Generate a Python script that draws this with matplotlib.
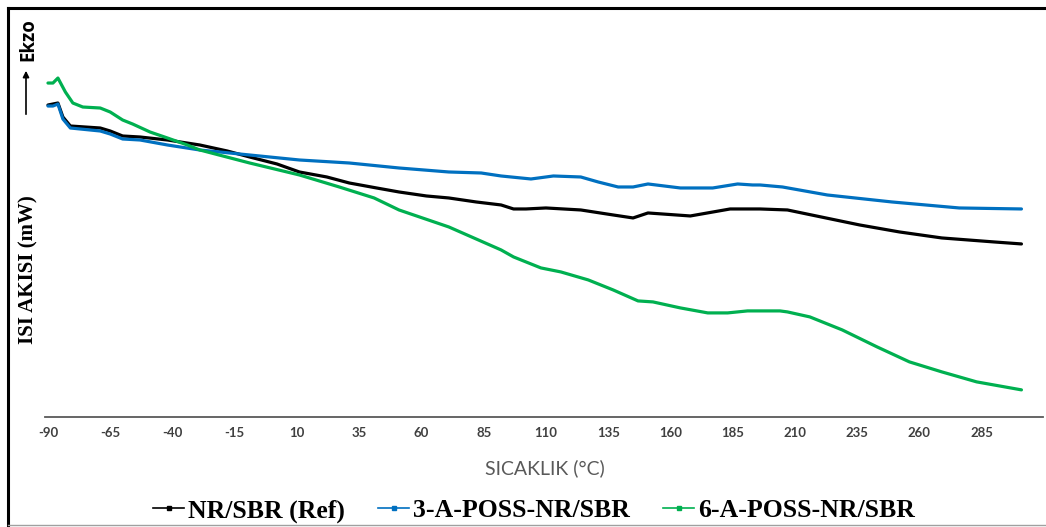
import matplotlib
matplotlib.use("Agg")
import matplotlib.pyplot as plt
from matplotlib.lines import Line2D

# DSC curves (temperature in °C, heat flow in arbitrary units)
t_ref = [-90, -88, -86, -84, -81, -69, -65, -60, -53, -42, -29, -18, -9, 2, 11, 22, 31, 42, 51, 62,
         71, 82, 92, 97, 102, 110, 124, 137, 145, 151, 168, 184, 196, 207, 236, 252, 269, 290, 301]
v_ref = [3.12, 3.13, 3.14, 3.00, 2.91, 2.89, 2.86, 2.81, 2.80, 2.77, 2.72, 2.66, 2.60, 2.53, 2.45,
         2.40, 2.34, 2.29, 2.25, 2.21, 2.19, 2.15, 2.12, 2.08, 2.08, 2.09, 2.07, 2.02, 1.99, 2.04,
         2.01, 2.08, 2.08, 2.07, 1.92, 1.85, 1.79, 1.75, 1.73]

t_3a = [-90, -88, -86, -84, -81, -69, -65, -60, -53, -42, -29, -9, 11, 31, 51, 71, 84, 92, 104, 113,
        124, 131, 139, 145, 151, 164, 177, 187, 193, 196, 205, 223, 249, 276, 301]
v_3a = [3.11, 3.11, 3.13, 2.98, 2.89, 2.86, 2.83, 2.78, 2.77, 2.72, 2.67, 2.62, 2.57, 2.54, 2.49,
        2.45, 2.44, 2.41, 2.38, 2.41, 2.40, 2.35, 2.30, 2.30, 2.33, 2.29, 2.29, 2.33, 2.32, 2.32,
        2.30, 2.22, 2.15, 2.09, 2.08]

t_6a = [-90, -88, -86, -83, -80, -76, -69, -65, -60, -56, -49, -42, -34, -29, -9, 11, 27, 41, 51, 71,
        92, 97, 108, 116, 127, 137, 147, 153, 164, 175, 183, 191, 204, 207, 216, 229, 243, 256, 269,
        283, 301]
v_6a = [3.34, 3.34, 3.39, 3.25, 3.14, 3.10, 3.09, 3.05, 2.97, 2.93, 2.85, 2.79, 2.72, 2.67, 2.54,
        2.42, 2.30, 2.19, 2.07, 1.90, 1.67, 1.60, 1.49, 1.45, 1.37, 1.27, 1.16, 1.15, 1.09, 1.04,
        1.04, 1.06, 1.06, 1.05, 1.00, 0.87, 0.70, 0.55, 0.45, 0.35, 0.27]

series_names = ["NR/SBR (Ref)", "3-A-POSS-NR/SBR", "6-A-POSS-NR/SBR"]
tick_temps = list(range(-90, 286, 25))

colors = ["#000000", "#0070C0", "#00B050"]

fig = plt.figure(figsize=(10.46, 5.27), dpi=100)
ax = fig.add_axes([0.043, 0.209, 0.954, 0.715])

for t, v, c, name in zip([t_ref, t_3a, t_6a], [v_ref, v_3a, v_6a], colors, series_names):
    ax.plot(t, v, color=c, lw=2.3, label=name, solid_capstyle="round", solid_joinstyle="round")

ax.set_xlim(-91.2, 309.6)
ax.set_ylim(0, 3.77)
ax.set_xticks(tick_temps)
ax.set_xticklabels([str(t) for t in tick_temps], fontsize=9.5, fontweight="bold",
                   color="#404040", family="Lato")
ax.tick_params(axis="x", length=0, pad=7)
ax.set_yticks([])
for s in ["top", "right", "left"]:
    ax.spines[s].set_visible(False)
ax.spines["bottom"].set_color("#595959")
ax.spines["bottom"].set_linewidth(1.3)

fig.text(545 / 1046, 1 - 468 / 527, "SICAKLIK (°C)", ha="center", va="center",
         fontsize=14, color="#595959", family="Lato")
fig.text(28 / 1046, 1 - 270 / 527, "ISI AKISI (mW)", rotation=90, ha="center", va="center",
         fontsize=15, fontweight="bold", family="Liberation Serif")
fig.text(28 / 1046, 1 - 40 / 527, "Ekzo", rotation=90, ha="center", va="center",
         fontsize=13.5, fontweight="bold", family="Open Sans")
ax.annotate("", xy=(26 / 1046, 1 - 68 / 527), xytext=(26 / 1046, 1 - 117 / 527),
            xycoords="figure fraction",
            arrowprops=dict(arrowstyle="-|>", color="black", lw=1.2, mutation_scale=9))

# frame around the figure
fig.add_artist(Line2D([8 / 1046, 1.0], [1 - 8 / 527] * 2, color="black", lw=2.2))
fig.add_artist(Line2D([8 / 1046] * 2, [0, 1 - 8 / 527], color="black", lw=2.2))
fig.add_artist(Line2D([8 / 1046, 1.0], [2 / 527] * 2, color="#a0a0a0", lw=1.0))

handles = [Line2D([], [], color=c, lw=1.2, marker="s", markersize=2.5) for c in colors]
fig.legend(handles, series_names, loc="center", bbox_to_anchor=(534 / 1046, 1 - 511 / 527),
           ncol=3, frameon=False, handlelength=1.2, handletextpad=0.15, columnspacing=1.3,
           prop={"family": "Liberation Serif", "weight": "bold", "size": 18.5})

fig.savefig("out.png", dpi=100)
